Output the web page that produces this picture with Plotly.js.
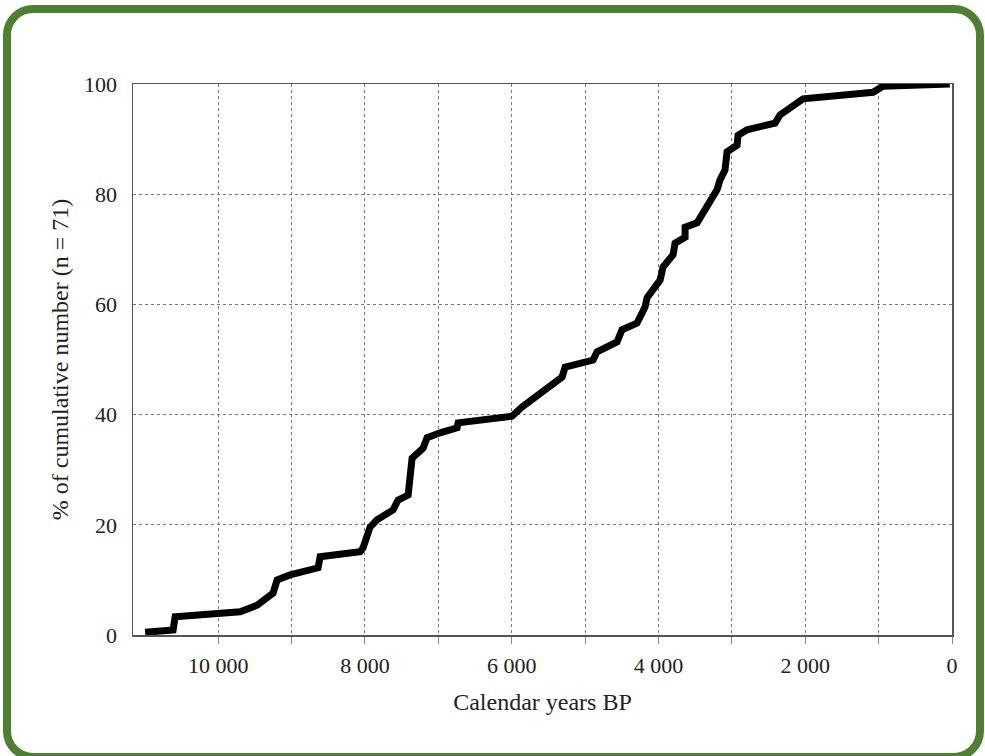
<!DOCTYPE html>
<html>
<head>
<meta charset="utf-8">
<script src="https://cdn.plot.ly/plotly-3.0.1.min.js"></script>
<style>
html,body{margin:0;padding:0;background:#fff;width:985px;height:756px;overflow:hidden;}
#frame{position:absolute;left:3px;top:5px;width:981px;height:756px;box-sizing:border-box;border:8px solid #4d8030;border-radius:30px;pointer-events:none;z-index:5;}
#chart{position:absolute;left:0;top:0;width:985px;height:756px;}
</style>
</head>
<body>
<div id="chart"></div>
<div id="frame"></div>
<script>
// Cumulative curve (calendar years BP, % cumulative)
const years = [10995, 10613, 10586, 10000, 9700, 9469, 9251, 9196, 9019, 8638, 8610, 8065, 8025, 7929, 7834, 7616, 7548, 7411, 7357, 7207, 7153, 6975, 6744, 6730, 6063, 5995, 5858, 5313, 5272, 4891, 4837, 4564, 4496, 4292, 4183, 4155, 3978, 3937, 3801, 3774, 3637, 3637, 3474, 3202, 3161, 3093, 3065, 2929, 2915, 2793, 2411, 2343, 2030, 1076, 940, 30];
const percent = [0.5, 0.9, 3.3, 3.8, 4.2, 5.4, 7.6, 10.0, 10.9, 12.2, 14.2, 15.1, 15.8, 19.6, 20.9, 22.7, 24.5, 25.4, 32.1, 33.9, 35.8, 36.7, 37.6, 38.5, 39.4, 39.7, 41.4, 46.8, 48.6, 49.9, 51.4, 53.2, 55.4, 56.6, 59.5, 61.2, 64.4, 66.8, 69.0, 71.1, 72.2, 74.0, 74.8, 80.8, 82.6, 84.4, 87.7, 88.9, 90.7, 91.7, 92.9, 94.4, 97.3, 98.5, 99.6, 100];
const xTickVals = [10000, 9000, 8000, 7000, 6000, 5000, 4000, 3000, 2000, 1000, 0];
const xTickText = ['10 000', '', '8 000', '', '6 000', '', '4 000', '', '2 000', '', '0'];
const yTickVals = [0, 20, 40, 60, 80, 100];

const serif = '"Liberation Serif", "DejaVu Serif", serif';
const tickFont = {family: serif, size: 22, color: '#222'};
const titleFont = {family: serif, size: 24, color: '#222'};

Plotly.newPlot('chart', [{
  x: years, y: percent, type: 'scatter', mode: 'lines',
  line: {color: '#000', width: 7, shape: 'linear'},
  hoverinfo: 'skip'
}], {
  width: 985, height: 756,
  margin: {l: 133, r: 33, t: 84, b: 121, pad: 0},
  paper_bgcolor: '#fff', plot_bgcolor: '#fff',
  showlegend: false,
  font: tickFont,
  xaxis: {
    range: [11160, 0], tickvals: xTickVals, ticktext: xTickText,
    showgrid: true, gridcolor: '#777', griddash: 'dot', gridwidth: 1,
    showline: true, mirror: true, linecolor: '#555', linewidth: 1.5,
    ticks: 'outside', ticklen: 7, tickcolor: '#888', tickwidth: 1,
    ticklabelstandoff: 3,
    zeroline: false, tickfont: tickFont,
    title: {text: 'Calendar years BP', font: titleFont, standoff: 16}
  },
  yaxis: {
    range: [0, 100], tickvals: yTickVals,
    showgrid: true, gridcolor: '#777', griddash: 'dot', gridwidth: 1,
    showline: true, mirror: true, linecolor: '#555', linewidth: 1.5,
    ticks: '', ticklabelstandoff: 10, zeroline: false, tickfont: tickFont,
    title: {text: '% of cumulative number (n = 71)', font: titleFont, standoff: 8}
  }
}, {staticPlot: true});
</script>
</body>
</html>
